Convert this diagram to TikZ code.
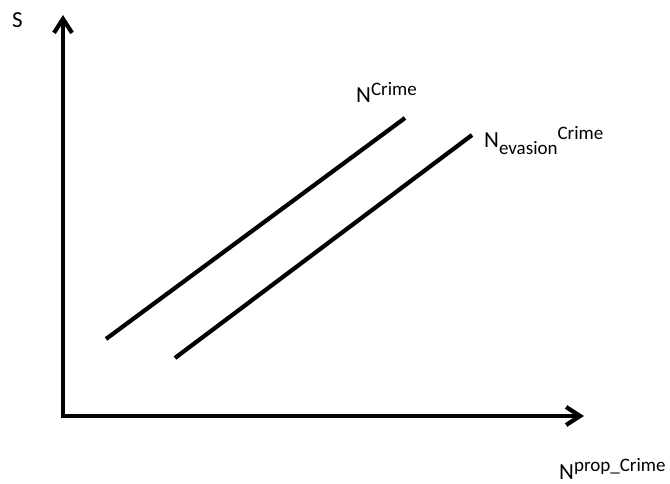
\documentclass[tikz,border=0pt]{standalone}
\usepackage{fontspec}
\setmainfont{Carlito}
\usetikzlibrary{arrows.meta}
\begin{document}
\begin{tikzpicture}[x=1pt,y=-1pt,
  axis/.style={line width=4.2pt,-{Straight Barb[length=14pt,width=18pt,line width=4.2pt]}},
  curve/.style={line width=4.2pt},
  lbl/.style={inner sep=0pt,anchor=base west,font=\fontsize{23}{26}\selectfont}]
\useasboundingbox (0,0) rectangle (670,484);
{
% Drawing the axes
\coordinate (origin) at (63,416);
\coordinate (stop) at (63,15);
\coordinate (nend) at (584,416);
\draw [axis] ([yshift=2.1pt]origin) -- (stop);%
\draw [axis] ([xshift=-2.1pt]origin) -- (nend);%

% Drawing line N Crime
\coordinate (crimelo) at (106,339);
\coordinate (crimehi) at (405,118);
\draw [curve] (crimelo) -- (crimehi);%

% Drawing line N evasion Crime
\coordinate (evasionlo) at (175,358);
\coordinate (evasionhi) at (472,135);
\draw [curve] (evasionlo) -- (evasionhi);%

% Labels
\node [lbl] (slabel) at (12,28) {S};%
\node [lbl] (crimelabel) at (356,103)
  {N\raisebox{7pt}{\fontsize{19}{22}\selectfont Crime}};%
\node [lbl] (evasionlabel) at (484,148)
  {N\raisebox{-7pt}{\fontsize{19}{22}\selectfont evasion}\raisebox{8pt}{\fontsize{19}{22}\selectfont Crime}};%
\node [lbl] (proplabel) at (559,479)
  {N\raisebox{8pt}{\fontsize{19}{22}\selectfont prop\_Crime}};%
}
\end{tikzpicture}
\end{document}
